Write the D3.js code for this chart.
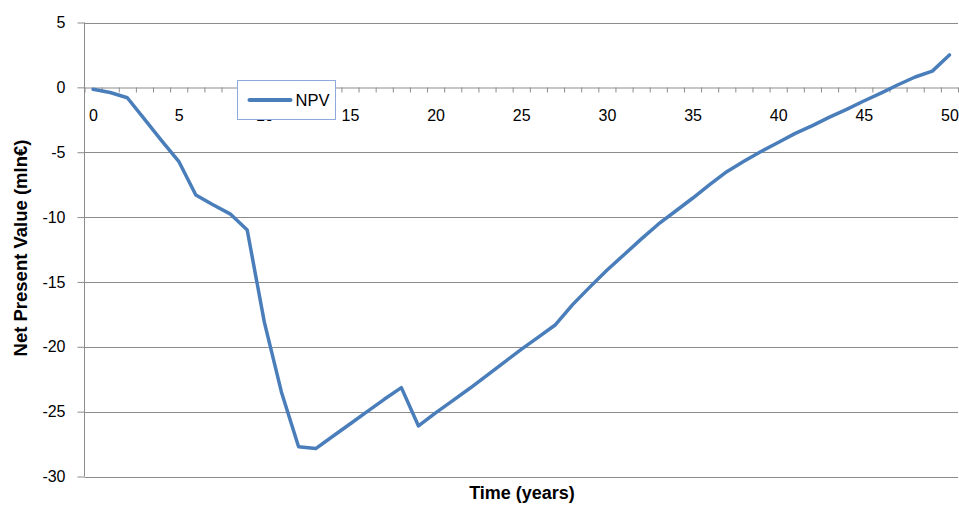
<!DOCTYPE html>
<html>
<head>
<meta charset="utf-8">
<script src="https://cdn.jsdelivr.net/npm/d3@7"></script>
<style>
    body { margin: 0; background: #fff; }
    svg { display: block; font-family: "Liberation Sans", Arial, sans-serif; }
    .grid line { stroke: #8c8c8c; stroke-width: 1; }
    .axis path, .axis line { stroke: #8c8c8c; }
    .axis text { fill: #000; font-size: 16px; }
</style>
</head>
<body>
<div id="chart"></div>
<script>
    // Data
    var years = [0, 1, 2, 3, 4, 5, 6, 7, 8, 9, 10, 11, 12, 13, 14, 15, 16, 17, 18, 19, 20,
        21, 22, 23, 24, 25, 26, 27, 28, 29, 30, 31, 32, 33, 34, 35, 36, 37, 38, 39, 40,
        41, 42, 43, 44, 45, 46, 47, 48, 49, 50];
    var npv = [-0.15, -0.4, -0.8, -2.45, -4.1, -5.7, -8.3, -9.05, -9.75, -11.0, -18.1,
        -23.5, -27.7, -27.85, -26.9, -25.95, -25.0, -24.05, -23.15, -26.1, -25.1,
        -24.15, -23.2, -22.2, -21.2, -20.2, -19.25, -18.3, -16.75, -15.4, -14.1,
        -12.9, -11.7, -10.55, -9.55, -8.55, -7.5, -6.5, -5.7, -4.95, -4.25,
        -3.55, -2.95, -2.3, -1.7, -1.05, -0.45, 0.2, 0.8, 1.25, 2.5];
    var xLabels = [0, 5, 10, 15, 20, 25, 30, 35, 40, 45, 50];
    var yTicks = [5, 0, -5, -10, -15, -20, -25, -30];
    var seriesName = "NPV";

    var width = 959, height = 505,
        margin = {top: 22.5, right: 1, bottom: 28.5, left: 84.5},
        lineColor = "#4a7ebb";

    var svg = d3.select("#chart").append("svg")
        .attr("width", width)
        .attr("height", height);

    // category axis: one band per year, ticks between categories
    var x = d3.scaleLinear()
        .domain([years[0] - 0.5, years[years.length - 1] + 0.5])
        .range([margin.left, width - margin.right]);

    var y = d3.scaleLinear()
        .domain([d3.min(yTicks), d3.max(yTicks)])
        .range([height - margin.bottom, margin.top]);

    // horizontal gridlines
    svg.append("g")
        .attr("class", "grid")
        .selectAll("line")
        .data(yTicks.filter(function(d) { return d !== 0; }))
        .enter().append("line")
        .attr("x1", x.range()[0])
        .attr("x2", x.range()[1])
        .attr("y1", function(d) { return Math.round(y(d)) + 0.5; })
        .attr("y2", function(d) { return Math.round(y(d)) + 0.5; });

    // y axis
    svg.append("g")
        .attr("class", "axis y")
        .attr("transform", "translate(" + margin.left + ",0)")
        .call(d3.axisLeft(y).tickValues(yTicks).tickSize(7).tickPadding(12)
            .tickFormat(function(d) { return String(d); }))
        .call(function(g) { g.select(".domain").attr("d", "M0," + y(d3.max(yTicks)) + "V" + y(d3.min(yTicks))); });

    // x axis on the zero line: tick marks between categories
    var boundaries = years.map(function(d) { return d - 0.5; }).concat([years[years.length - 1] + 0.5]);
    var zeroY = Math.round(y(0)) + 0.5;

    svg.append("g")
        .attr("class", "axis x")
        .attr("transform", "translate(0," + zeroY + ")")
        .call(d3.axisBottom(x).tickValues(boundaries).tickSize(5).tickSizeOuter(0)
            .tickFormat(""));

    svg.append("g")
        .attr("class", "axis xlabels")
        .attr("transform", "translate(0," + zeroY + ")")
        .call(d3.axisBottom(x).tickValues(xLabels).tickSize(0).tickPadding(22)
            .tickFormat(function(d) { return String(d); }))
        .call(function(g) { g.select(".domain").remove(); });

    // the line
    var line = d3.line()
        .x(function(d, i) { return x(years[i]); })
        .y(function(d) { return y(d); });

    svg.append("path")
        .datum(npv)
        .attr("d", line)
        .style("fill", "none")
        .style("stroke", lineColor)
        .style("stroke-width", 3.5)
        .style("stroke-linejoin", "round")
        .style("stroke-linecap", "round");

    // axis titles
    svg.append("text")
        .attr("x", 522)
        .attr("y", 499)
        .attr("text-anchor", "middle")
        .style("font-size", "18px")
        .style("font-weight", "bold")
        .text("Time (years)");

    svg.append("text")
        .attr("transform", "translate(27,248) rotate(-90)")
        .attr("text-anchor", "middle")
        .style("font-size", "18.5px")
        .style("font-weight", "bold")
        .text("Net Present Value (mln€)");

    // legend
    var legend = svg.append("g").attr("transform", "translate(237.5,80.5)");
    legend.append("rect")
        .attr("width", 98)
        .attr("height", 39)
        .style("fill", "#fff")
        .style("stroke", "#8eaadb")
        .style("stroke-width", 1);
    legend.append("line")
        .attr("x1", 12).attr("x2", 53)
        .attr("y1", 19.5).attr("y2", 19.5)
        .style("stroke", lineColor)
        .style("stroke-width", 4)
        .style("stroke-linecap", "round");
    legend.append("text")
        .attr("x", 58).attr("y", 19.5)
        .attr("dy", "0.35em")
        .style("font-size", "16.5px")
        .text(seriesName);
</script>
</body>
</html>
